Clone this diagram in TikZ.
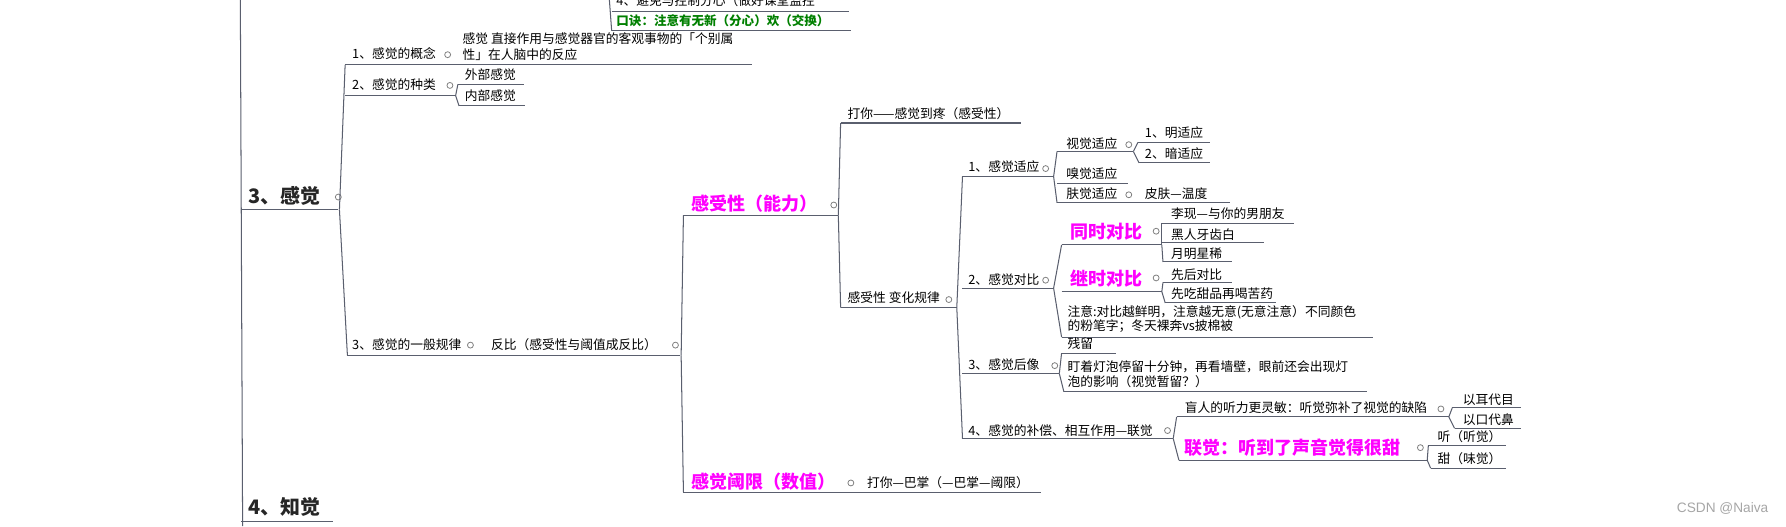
\documentclass[tikz,border=0pt]{standalone}
\usepackage{fontspec}
\setmainfont{Noto Sans CJK SC}
\newfontfamily\wm{Liberation Sans}
\definecolor{ln}{HTML}{5A5F6E}
\definecolor{mg}{HTML}{FF00FF}
\definecolor{gn}{HTML}{008000}
\tikzset{t/.style={anchor=base west,inner sep=0pt,font=\fontsize{11.2}{12}\selectfont,text=black},
 tm/.style={t,font=\fontsize{15.8}{17}\selectfont\bfseries,text=mg},
 tb/.style={t,font=\fontsize{17.5}{18}\selectfont\bfseries,text=black!85},
 tg/.style={t,font=\fontsize{11}{12}\selectfont\bfseries,text=gn},
 ul/.style={draw=ln,line width=0.9pt},
 cr/.style={draw=gray,line width=0.7pt,fill=white}}
\newcommand\tx[4][t]{\node[#1] at (#2,#3) {#4};}
\newcommand\ulx[3]{\draw[ul] (#1,#3) -- (#2,#3);}
\newcommand\brx[4]{\draw[ul] (#1,#2) -- (#3,#4);}
\newcommand\crx[2]{\draw[cr] (#1,#2) circle (2.6pt);}
\begin{document}
\begin{tikzpicture}[x=1pt,y=-1pt]
\useasboundingbox[fill=white] (0,0) rectangle (1568,462);
% main line
\draw[ul] (211,0) -- (213,462);
% top partial
\draw[ul] (535,0) -- (537,27);
\tx{541}{5}{4、避免与控制分心（做好课堂监控}
\ulx{537}{745}{10}
\tx[tg]{541}{22}{口诀：注意有无新（分心）欢（交换）}
\ulx{537}{747}{27}
% 3 感觉
\tx[tb]{218}{179}{3、感觉}
\ulx{212}{297}{184}\crx{297}{173}
\tx[tb]{218}{452}{4、知觉}
\ulx{212}{292}{458}
\brx{298}{184}{303}{57}\brx{298}{184}{305}{312}
% level 2
\tx{309}{51}{1、感觉的概念}\crx{393}{48}
\tx{406}{38}{感觉 直接作用与感觉器官的客观事物的「个别属}
\tx{406}{52}{性」在人脑中的反应}
\ulx{303}{660}{57}
\tx{309}{79}{2、感觉的种类}\crx{395}{75}
\ulx{303}{400}{84}
\brx{400}{84}{402}{74}\brx{400}{84}{403}{93}
\tx{408}{70}{外部感觉}\ulx{402}{460}{74}
\tx{408}{88}{内部感觉}\ulx{403}{461}{93}
\tx{309}{307}{3、感觉的一般规律}\crx{413}{303}
\tx{431}{307}{反比（感受性与阈值成反比）}\crx{593}{303}
\ulx{305}{597}{312}
\brx{598}{312}{600}{189}\brx{598}{312}{600}{432}
% 感受性
\tx[tm]{607}{185}{感受性（能力）}\crx{732}{180}
\ulx{600}{736}{189}
\tx[tm]{607}{429}{感觉阈限（数值）}\crx{747}{424}
\tx{761}{428}{打你—巴掌（—巴掌—阈限）}
\ulx{600}{914}{432}
\brx{736}{189}{738}{108}\brx{736}{189}{738}{270}
\tx{744}{104}{打你——感觉到疼（感受性）}\ulx{738}{896}{108}
\tx{744}{266}{感受性 变化规律}\crx{833}{263}\ulx{738}{840}{270}
\brx{840}{270}{845}{155}\brx{840}{270}{845}{385}
% 1 感觉适应
\tx{850}{151}{1、感觉适应}\crx{918}{148}\ulx{845}{925}{155}
\brx{925}{155}{928}{133}\brx{925}{155}{928}{178}
\tx{936}{130}{视觉适应}\crx{991}{127}\ulx{928}{995}{133}
\brx{995}{133}{999}{125}\brx{995}{133}{1000}{143}
\tx{1005}{121}{1、明适应}\ulx{999}{1062}{125}
\tx{1005}{139}{2、暗适应}\ulx{1000}{1062}{143}
\tx{936}{157}{嗅觉适应}\ulx{928}{990}{161}
\tx{936}{174}{肤觉适应}\crx{991}{171}
\tx{1005}{174}{皮肤—温度}\ulx{928}{1080}{178}
% 2 感觉对比
\tx{850}{250}{2、感觉对比}\crx{918}{246}\ulx{845}{925}{253}
\brx{925}{253}{932}{215}\brx{925}{253}{932}{296}
\tx[tm]{940}{209}{同时对比}\crx{1015}{203}\ulx{932}{1020}{215}
\brx{1020}{215}{1020}{196}\brx{1020}{215}{1021}{230}
\tx{1028}{192}{李现—与你的男朋友}\ulx{1020}{1136}{196}
\tx{1028}{210}{黑人牙齿白}\ulx{1020}{1110}{213}
\tx{1028}{227}{月明星稀}\ulx{1021}{1082}{230}
\tx[tm]{940}{251}{继时对比}\crx{1015}{244}\ulx{932}{1020}{256}
\brx{1020}{256}{1021}{248}\brx{1020}{256}{1023}{266}
\tx{1028}{245}{先后对比}\ulx{1021}{1082}{248}
\tx{1028}{262}{先吃甜品再喝苦药}\ulx{1023}{1120}{266}
\tx{937}{278}{注意:对比越鲜明，注意越无意(无意注意）不同颜色}
\tx{937}{290}{的粉笔字；冬天裸奔vs披棉被}
\ulx{932}{1205}{296}
% 3 后像
\tx{850}{324}{3、感觉后像}\crx{926}{321}\ulx{845}{930}{328}
\brx{930}{328}{932}{310}\brx{930}{328}{934}{344}
\tx{937}{306}{残留}\ulx{932}{980}{310}
\tx{937}{326}{盯着灯泡停留十分钟，再看墙壁，眼前还会出现灯}
\tx{937}{339}{泡的影响（视觉暂留？）}
\ulx{934}{1200}{344}
% 4 补偿
\tx{850}{382}{4、感觉的补偿、相互作用—联觉}\crx{1025}{378}\ulx{845}{1030}{385}
\brx{1030}{385}{1033}{366}\brx{1030}{385}{1035}{404}
\tx{1040}{362}{盲人的听力更灵敏：听觉弥补了视觉的缺陷}\crx{1265}{359}\ulx{1033}{1272}{366}
\brx{1272}{366}{1275}{358}\brx{1272}{366}{1277}{376}
\tx{1284}{355}{以耳代目}\ulx{1275}{1335}{358}
\tx{1284}{373}{以口代鼻}\ulx{1277}{1335}{376}
\tx[tm]{1040}{399}{联觉：听到了声音觉得很甜}\crx{1247}{393}\ulx{1035}{1253}{404}
\brx{1253}{404}{1254}{391}\brx{1253}{404}{1256}{411}
\tx{1262}{388}{听（听觉）}\ulx{1254}{1322}{391}
\tx{1262}{407}{甜（味觉）}\ulx{1256}{1322}{411}
% watermark
\node[anchor=base west,inner sep=0pt,font=\wm\fontsize{12}{14}\selectfont,text=gray!70] at (1472,450) {CSDN @Naiva};
\end{tikzpicture}
\end{document}
